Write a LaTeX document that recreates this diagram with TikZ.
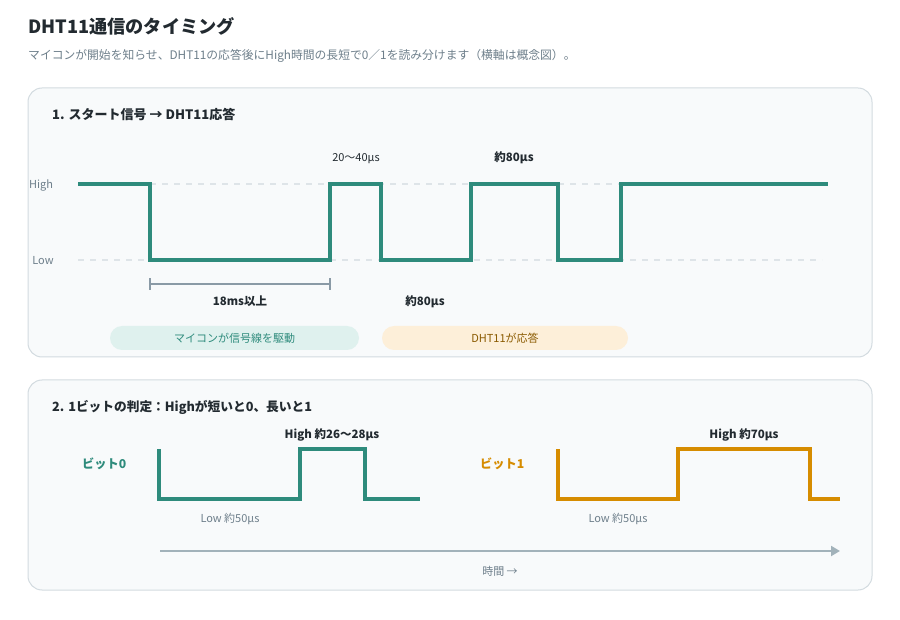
\documentclass[tikz,border=0pt]{standalone}
\usepackage{fontspec}
\setmainfont{Noto Sans CJK JP}
\usetikzlibrary{arrows.meta}
\definecolor{teal1}{HTML}{2E8B7C}
\definecolor{orng}{HTML}{D68C00}
\definecolor{panelbg}{HTML}{F8FAFB}
\definecolor{panelbd}{HTML}{D3DBE0}
\definecolor{txtdark}{HTML}{222A30}
\definecolor{txtgrey}{HTML}{6E7F8B}
\definecolor{dashc}{HTML}{DEE4E8}
\definecolor{axisc}{HTML}{A2B2BA}
\definecolor{brk}{HTML}{8A9AA6}
\definecolor{pillA}{HTML}{DFF1EE}
\definecolor{pillB}{HTML}{FDEFD9}
\definecolor{pillBtxt}{HTML}{8A5A00}
\tikzset{
  panel/.style={draw=panelbd, line width=1pt, fill=panelbg, rounded corners=14pt},
  ttl/.style={anchor=base west, text=txtdark, font=\fontsize{13}{15}\selectfont\bfseries, inner sep=0pt},
  lvl/.style={anchor=base, text=txtgrey, font=\fontsize{11}{13}\selectfont, inner sep=0pt},
  dur/.style={anchor=base, text=txtdark, font=\fontsize{11}{13}\selectfont, inner sep=0pt},
  durb/.style={anchor=base, text=txtdark, font=\fontsize{11.5}{13}\selectfont\bfseries, inner sep=0pt},
  sig/.style={line width=4pt, line join=miter},
  gridl/.style={dashc, line width=1.5pt, dash pattern=on 6pt off 6pt},
  pill/.style={rounded corners=12pt, minimum height=24pt, inner sep=0pt, font=\fontsize{11}{13}\selectfont},
}
\begin{document}
\begin{tikzpicture}[x=1pt,y=-1pt]
\path[use as bounding box, fill=white] (0,0) rectangle (900,620);
% header
\node[anchor=base west, inner sep=0pt, text=txtdark, font=\fontsize{18.2}{22}\selectfont\bfseries] (title) at (28,34) {DHT11通信のタイミング};
\node[anchor=base west, inner sep=0pt, text=txtgrey, font=\fontsize{11.8}{14}\selectfont] (sub) at (28,60) {マイコンが開始を知らせ、DHT11の応答後にHigh時間の長短で0／1を読み分けます（横軸は概念図）。};
% panel 1
\draw[panel] (28,88) rectangle (872,357);
\node[ttl] (t1) at (52,120) {1. スタート信号 → DHT11応答};
\node[lvl] (hi) at (41,189) {High};
\node[lvl] (lo) at (43,265) {Low};
\draw[gridl] (78,184) -- (822,184);
\draw[gridl] (78,260) -- (822,260);
\draw[sig, teal1] (78,184) -- (150,184) -- (150,260) -- (330,260) -- (330,184) -- (381,184) -- (381,260) -- (471,260) -- (471,184) -- (558,184) -- (558,260) -- (621,260) -- (621,184) -- (828,184);
\node[dur] (d1) at (356,162) {20〜40μs};
\node[durb] (d2) at (514,162) {約80μs};
\coordinate (bA) at (150,284);
\coordinate (bB) at (330,284);
\draw[brk, line width=2pt] (bA) -- (bB);
\draw[brk, line width=1.5pt] ([yshift=-6pt]bA) -- ([yshift=6pt]bA);
\draw[brk, line width=1.5pt] ([yshift=-6pt]bB) -- ([yshift=6pt]bB);
\node[durb] (d3) at (240,306) {18ms以上};
\node[durb] (d4) at (425,306) {約80μs};
\node[pill, fill=pillA, text=teal1, minimum width=249pt] (pa) at (234.5,338) {マイコンが信号線を駆動};
\node[pill, fill=pillB, text=pillBtxt, minimum width=246pt] (pb) at (505,338) {DHT11が応答};
% panel 2
\draw[panel] (28,380) rectangle (872,590);
\node[ttl, font=\fontsize{12.7}{15}\selectfont\bfseries] (t2) at (52,411) {2. 1ビットの判定：Highが短いと0、長いと1};
\node[anchor=base west, inner sep=0pt, text=teal1, font=\fontsize{12.2}{15}\selectfont\bfseries] (b0) at (82,468) {ビット0};
\draw[sig, teal1] (159,449) -- (159,499) -- (300,499) -- (300,449) -- (365,449) -- (365,499) -- (420,499);
\node[durb] (h0) at (332,438) {High 約26〜28μs};
\node[lvl] (l0) at (230,522) {Low 約50μs};
\node[anchor=base west, inner sep=0pt, text=orng, font=\fontsize{12.2}{15}\selectfont\bfseries] (b1) at (480,468) {ビット1};
\draw[sig, orng] (558,449) -- (558,499) -- (678,499) -- (678,449) -- (810,449) -- (810,499) -- (840,499);
\node[durb] (h1) at (744,438) {High 約70μs};
\node[lvl] (l1) at (618,522) {Low 約50μs};
\coordinate (ax0) at (160,551);
\coordinate (ax1) at (840,551);
\draw[axisc, line width=2pt, -{Triangle[length=9pt, width=10pt]}] (ax0) -- (ax1);
\node[lvl] (tm) at (500,575) {時間 →};
\end{tikzpicture}
\end{document}
